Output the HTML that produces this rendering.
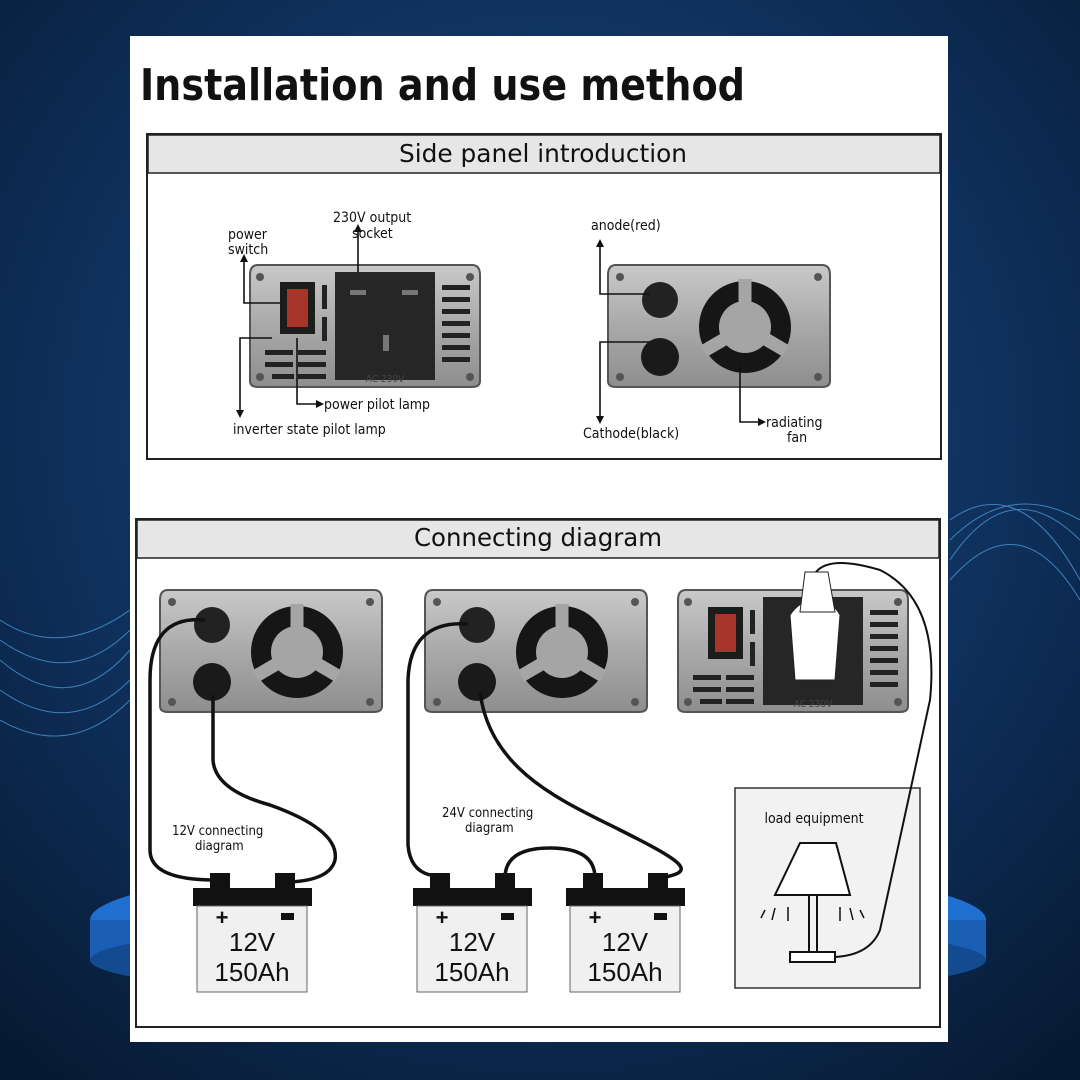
<!DOCTYPE html>
<html><head><meta charset="utf-8"><style>
html,body{margin:0;padding:0;width:1080px;height:1080px;overflow:hidden;background:#0b2446}
svg{display:block}
text{font-family:"DejaVu Sans Condensed","Liberation Sans",sans-serif;fill:#111}
</style></head><body>
<svg width="1080" height="1080" viewBox="0 0 1080 1080" xmlns="http://www.w3.org/2000/svg">
<defs>
<radialGradient id="bg" cx="50%" cy="40%" r="75%">
<stop offset="0" stop-color="#1a4a80"/><stop offset="0.6" stop-color="#0e2f5a"/><stop offset="1" stop-color="#071a33"/>
</radialGradient>
<linearGradient id="metal" x1="0" y1="0" x2="0" y2="1">
<stop offset="0" stop-color="#c9c9c9"/><stop offset="0.5" stop-color="#a9a9a9"/><stop offset="1" stop-color="#8e8e8e"/>
</linearGradient>
<g id="dc">
<path d="M8 0 H214 Q222 0 222 10 V116 Q222 122 214 122 H8 Q0 122 0 116 V10 Q0 0 8 0Z" fill="url(#metal)" stroke="#555" stroke-width="2"/>
<circle cx="12" cy="12" r="4" fill="#555"/><circle cx="210" cy="12" r="4" fill="#555"/>
<circle cx="12" cy="112" r="4" fill="#555"/><circle cx="210" cy="112" r="4" fill="#555"/>
<circle cx="52" cy="35" r="18" fill="#222"/><circle cx="52" cy="92" r="19" fill="#1a1a1a"/>
<circle cx="137" cy="62" r="46" fill="#161616"/>
<circle cx="137" cy="62" r="26" fill="#a5a5a5"/>
<g stroke="#a5a5a5" stroke-width="13">
<line x1="137" y1="62" x2="137" y2="14"/><line x1="137" y1="62" x2="96" y2="86"/><line x1="137" y1="62" x2="178" y2="86"/>
</g>
</g>
<g id="ac">
<path d="M8 0 H222 Q230 0 230 10 V116 Q230 122 222 122 H8 Q0 122 0 116 V10 Q0 0 8 0Z" fill="url(#metal)" stroke="#555" stroke-width="2"/>
<circle cx="10" cy="12" r="4" fill="#555"/><circle cx="220" cy="12" r="4" fill="#555"/>
<circle cx="10" cy="112" r="4" fill="#555"/><circle cx="220" cy="112" r="4" fill="#555"/>
<rect x="30" y="17" width="35" height="52" fill="#1c1c1c"/>
<rect x="37" y="24" width="21" height="38" fill="#c0392b" opacity="0.85"/>
<rect x="72" y="20" width="5" height="24" fill="#222"/><rect x="72" y="52" width="5" height="24" fill="#222"/>
<rect x="85" y="7" width="100" height="108" fill="#262626"/>
<g fill="#222"><rect x="192" y="20" width="28" height="5"/><rect x="192" y="32" width="28" height="5"/><rect x="192" y="44" width="28" height="5"/><rect x="192" y="56" width="28" height="5"/><rect x="192" y="68" width="28" height="5"/><rect x="192" y="80" width="28" height="5"/><rect x="192" y="92" width="28" height="5"/>
<rect x="15" y="85" width="28" height="5"/><rect x="48" y="85" width="28" height="5"/><rect x="15" y="97" width="28" height="5"/><rect x="48" y="97" width="28" height="5"/><rect x="22" y="109" width="22" height="5"/><rect x="48" y="109" width="28" height="5"/></g>
<text x="135" y="117" font-size="10" text-anchor="middle" style="fill:#444">AC 230V</text>
</g>
</defs>
<rect width="1080" height="1080" fill="url(#bg)"/>
<g fill="none" stroke="#5fb8ff" stroke-width="1" opacity="0.6">
<path d="M0 620 Q60 660 130 610"/><path d="M0 640 Q70 690 130 630"/><path d="M0 660 Q70 720 130 650"/><path d="M0 690 Q70 740 130 680"/><path d="M0 720 Q70 760 130 700"/>
<path d="M950 560 Q1010 470 1080 540"/><path d="M950 540 Q1010 480 1080 520"/><path d="M950 520 Q1020 470 1080 580"/><path d="M950 580 Q1020 500 1080 600"/>
</g>
<ellipse cx="538" cy="920" rx="448" ry="60" fill="#1e6fd0"/>
<rect x="90" y="920" width="896" height="40" fill="#1a5fb4"/>
<ellipse cx="538" cy="960" rx="448" ry="40" fill="#134b90"/>
<rect x="130" y="36" width="818" height="1006" fill="#fff"/>
<text x="140" y="100" font-size="44" font-weight="bold" textLength="605" lengthAdjust="spacingAndGlyphs">Installation and use method</text>
<!-- section 1 -->
<rect x="147" y="134" width="794" height="325" fill="#fff" stroke="#222" stroke-width="2"/>
<rect x="148" y="135" width="792" height="38" fill="#e6e6e6" stroke="#222" stroke-width="1.5"/>
<text x="543" y="162" font-size="25" text-anchor="middle" textLength="288" lengthAdjust="spacingAndGlyphs">Side panel introduction</text>
<use href="#ac" x="250" y="265"/>
<g fill="#777"><rect x="350" y="290" width="16" height="5"/><rect x="402" y="290" width="16" height="5"/><rect x="383" y="335" width="6" height="16"/></g>
<use href="#dc" x="608" y="265"/>
<g stroke="#111" stroke-width="1.6" fill="none">
<path d="M280 303 H244 V260"/><path d="M358 272 V230"/><path d="M272 338 H240 V412"/><path d="M297 338 V404 H318"/>
<path d="M650 294 H600 V245"/><path d="M650 342 H600 V418"/><path d="M740 365 V422 H760"/>
</g>
<g fill="#111"><path d="M244 254 l-4 8 h8z"/><path d="M358 224 l-4 8 h8z"/><path d="M240 418 l-4 -8 h8z"/><path d="M324 404 l-8 -4 v8z"/>
<path d="M600 239 l-4 8 h8z"/><path d="M600 424 l-4 -8 h8z"/><path d="M766 422 l-8 -4 v8z"/></g>
<g font-size="14">
<text x="228" y="239">power</text><text x="228" y="254">switch</text>
<text x="333" y="222">230V output</text><text x="352" y="238">socket</text>
<text x="324" y="409">power pilot lamp</text>
<text x="233" y="434">inverter state pilot lamp</text>
<text x="591" y="230">anode(red)</text>
<text x="583" y="438">Cathode(black)</text>
<text x="766" y="427">radiating</text><text x="787" y="442">fan</text>
</g>
<!-- section 2 -->
<rect x="136" y="519" width="804" height="508" fill="#fff" stroke="#222" stroke-width="2"/>
<rect x="137" y="520" width="802" height="38" fill="#e6e6e6" stroke="#222" stroke-width="1.5"/>
<text x="538" y="546" font-size="25" text-anchor="middle" textLength="248" lengthAdjust="spacingAndGlyphs">Connecting diagram</text>
<use href="#dc" x="160" y="590"/>
<use href="#dc" x="425" y="590"/>
<use href="#ac" x="678" y="590"/>
<path d="M790 615 Q800 600 815 600 Q832 600 840 615 L835 680 H795Z" fill="#fff" stroke="#222"/>
<path d="M805 572 H828 L835 612 H800Z" fill="#fff" stroke="#222"/>
<!-- load box -->
<rect x="735" y="788" width="185" height="200" fill="#f2f2f2" stroke="#333" stroke-width="1.5"/>
<text x="814" y="823" font-size="14" text-anchor="middle">load equipment</text>
<path d="M800 843 H836 L850 895 H775Z" fill="#fff" stroke="#111" stroke-width="2"/>
<path d="M809 895 V952 M817 895 V952" stroke="#111" stroke-width="2"/>
<rect x="790" y="952" width="45" height="10" fill="#fff" stroke="#111" stroke-width="2"/>
<g stroke="#111" stroke-width="1.5"><path d="M765 910 l-4 8"/><path d="M775 908 l-3 12"/><path d="M788 907 v14"/><path d="M840 907 v14"/><path d="M850 908 l3 12"/><path d="M860 910 l4 8"/></g>
<!-- wires -->
<g fill="none" stroke="#111" stroke-width="3.5">
<path d="M205 620 Q150 615 150 680 V850 Q150 880 215 880"/>
<path d="M213 695 V760 Q215 790 270 805 Q340 830 335 860 Q330 880 290 882"/>
<path d="M468 624 Q410 620 408 680 V845 Q410 870 430 875"/>
<path d="M480 692 C490 770 560 800 620 830 C690 865 695 872 660 878"/>
<path d="M505 878 Q505 848 550 848 Q595 848 595 878"/>
</g>
<path d="M816 572 Q830 555 880 570 Q940 600 930 700 L880 930 Q870 955 835 957" fill="none" stroke="#111" stroke-width="2"/>
<text x="172" y="835" font-size="13">12V connecting</text><text x="195" y="850" font-size="13">diagram</text>
<text x="442" y="817" font-size="13">24V connecting</text><text x="465" y="832" font-size="13">diagram</text>
<!-- batteries -->
<g id="bat">
<rect x="210" y="873" width="20" height="20" fill="#111"/><rect x="275" y="873" width="20" height="20" fill="#111"/>
<rect x="193" y="888" width="119" height="18" fill="#111"/>
<rect x="197" y="906" width="110" height="86" fill="#f0f0f0" stroke="#666"/>
<text x="222" y="925" font-size="22" text-anchor="middle" font-weight="bold" style="font-family:'Liberation Sans',sans-serif">+</text>
<rect x="281" y="913" width="13" height="7" fill="#111"/>
<text x="252" y="951" font-size="26" text-anchor="middle" style="font-family:'Liberation Sans',sans-serif">12V</text>
<text x="252" y="981" font-size="26" text-anchor="middle" style="font-family:'Liberation Sans',sans-serif">150Ah</text>
</g>
<use href="#bat" x="220" y="0"/>
<use href="#bat" x="373" y="0"/>
</svg>
</body></html>
